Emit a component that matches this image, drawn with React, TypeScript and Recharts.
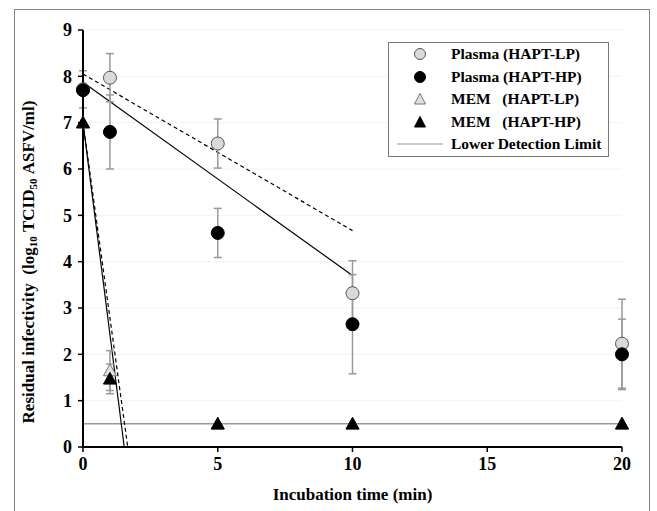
import React from "react";
import {
  ComposedChart,
  Scatter,
  ErrorBar,
  XAxis,
  YAxis,
  CartesianGrid,
  ReferenceLine,
} from "recharts";

// sampling times (min)
const times = [0, 1, 5, 10, 20];

// residual infectivity, log10 TCID50 ASFV/ml
const plasmaLP = [7.72, 7.97, 6.55, 3.32, 2.23];
const plasmaLPErr = [0.4, 0.52, 0.53, 0.7, 0.96];
const plasmaHP = [7.7, 6.8, 4.62, 2.65, 2.0];
const plasmaHPErr = [0.1, 0.8, 0.53, 1.07, 0.76];
const memLP = [7.0, 1.65, 0.5, 0.5, 0.5];
const memLPErr = [0, 0.43, 0, 0, 0];
const memHP = [7.0, 1.47, 0.5, 0.5, 0.5];
const memHPErr = [0, 0.32, 0, 0, 0];

// regression line end points [x, y]
const plasmaLPFit = [[0, 8.05], [10, 4.67]];
const plasmaHPFit = [[0, 7.87], [10, 3.7]];
const memLPFit = [[0, 7.0], [1.66, 0]];
const memHPFit = [[0, 7.0], [1.53, 0]];

const detectionLimit = 0.5;
const xTicks = [0, 5, 10, 15, 20];
const yTicks = [0, 1, 2, 3, 4, 5, 6, 7, 8, 9];

const legendItems = [
  { label: "Plasma (HAPT-LP)", shape: "circle", fill: "#d9d9d9", stroke: "#555" },
  { label: "Plasma (HAPT-HP)", shape: "circle", fill: "#000", stroke: "#000" },
  { label: "MEM   (HAPT-LP)", shape: "triangle", fill: "#e0e0e0", stroke: "#777" },
  { label: "MEM   (HAPT-HP)", shape: "triangle", fill: "#000", stroke: "#000" },
  { label: "Lower Detection Limit", shape: "line", fill: "none", stroke: "#999" },
];

const serif = "'Liberation Serif', 'Times New Roman', serif";
const tickStyle = { fill: "#000", fontSize: 18, fontWeight: "bold", fontFamily: serif };

const build = (ys: number[], errs: number[]) =>
  times.map((t, i) => ({ x: t, y: ys[i], err: errs[i] }));

const toSegment = (pts: number[][]) => pts.map(([x, y]) => ({ x, y }));

const circleShape = (fill: string, stroke: string) => (props: any) =>
  <circle cx={props.cx} cy={props.cy} r={6.5} fill={fill} stroke={stroke} strokeWidth={1} />;

const triangleShape = (fill: string, stroke: string) => (props: any) => {
  const { cx, cy } = props;
  const s = 6.5;
  return (
    <path
      d={`M${cx},${cy - s} L${cx + s},${cy + s * 0.8} L${cx - s},${cy + s * 0.8} Z`}
      fill={fill}
      stroke={stroke}
      strokeWidth={1}
    />
  );
};

const LegendBox: React.FC = () => (
  <div
    style={{
      position: "absolute",
      left: 388,
      top: 42,
      border: "1px solid #777",
      background: "#fff",
      width: 219,
      fontFamily: serif,
      fontWeight: "bold",
      fontSize: 15.5,
    }}
  >
    {legendItems.map((it) => (
      <div key={it.label} style={{ display: "flex", alignItems: "center", height: 22.5 }}>
        <svg width={62} height={16}>
          {it.shape === "circle" && <circle cx={31} cy={8} r={5.5} fill={it.fill} stroke={it.stroke} />}
          {it.shape === "triangle" && (
            <path d="M31,2.5 L36.5,13 L25.5,13 Z" fill={it.fill} stroke={it.stroke} />
          )}
          {it.shape === "line" && <line x1={8} x2={54} y1={8} y2={8} stroke={it.stroke} strokeWidth={1} />}
        </svg>
        <span style={{ whiteSpace: "pre", color: "#000" }}>{it.label}</span>
      </div>
    ))}
  </div>
);

const YLabel: React.FC<any> = () => (
  <text
    x={30}
    y={262}
    transform="rotate(-90, 30, 262)"
    textAnchor="middle"
    dominantBaseline="middle"
    fontFamily={serif}
    fontWeight="bold"
    fontSize={17}
    fill="#000"
  >
    <tspan>{"Residual infectivity\u00a0\u00a0(log"}</tspan>
    <tspan fontSize={11} dy={4}>10</tspan>
    <tspan dy={-4}>{"\u00a0TCID"}</tspan>
    <tspan fontSize={11} dy={4}>50</tspan>
    <tspan dy={-4}>{"\u00a0ASFV/ml)"}</tspan>
  </text>
);

export default function App() {
  return (
    <div
      style={{
        position: "absolute",
        left: 0,
        top: 0,
        width: 657,
        height: 511,
        overflow: "hidden",
        background: "#fff",
      }}
    >
      <div
        style={{
          position: "absolute",
          left: 14,
          top: 9,
          width: 636,
          height: 540,
          border: "1px solid #888",
          boxSizing: "border-box",
        }}
      />
      <ComposedChart
        width={657}
        height={511}
        margin={{ top: 30, right: 35, bottom: 34, left: 0 }}
        style={{ position: "absolute", left: 0, top: 0 }}
      >
        <CartesianGrid horizontal vertical={false} stroke="#f2f2f2" />
        <XAxis
          type="number"
          dataKey="x"
          domain={[0, 20]}
          ticks={xTicks}
          height={30}
          tickSize={5}
          tickMargin={5}
          axisLine={{ stroke: "#000", strokeWidth: 2 }}
          tickLine={{ stroke: "#000", strokeWidth: 1.5 }}
          tick={tickStyle}
          label={{
            value: "Incubation time (min)",
            position: "insideBottom",
            offset: -23,
            style: { fill: "#000", fontSize: 17, fontWeight: "bold", fontFamily: serif },
          }}
        />
        <YAxis
          type="number"
          dataKey="y"
          domain={[0, 9]}
          ticks={yTicks}
          width={83}
          tickSize={5}
          tickMargin={6}
          axisLine={{ stroke: "#000", strokeWidth: 2 }}
          tickLine={{ stroke: "#000", strokeWidth: 1.5 }}
          tick={tickStyle}
          label={<YLabel />}
        />
        <ReferenceLine y={detectionLimit} stroke="#999" strokeWidth={1.5} />
        <ReferenceLine segment={toSegment(plasmaLPFit)} stroke="#000" strokeWidth={1.2} strokeDasharray="4 3" />
        <ReferenceLine segment={toSegment(plasmaHPFit)} stroke="#000" strokeWidth={1.2} />
        <ReferenceLine segment={toSegment(memLPFit)} stroke="#000" strokeWidth={1.2} strokeDasharray="4 3" />
        <ReferenceLine segment={toSegment(memHPFit)} stroke="#000" strokeWidth={1.2} />
        <Scatter
          name="Plasma (HAPT-LP)"
          data={build(plasmaLP, plasmaLPErr)}
          dataKey="y"
          shape={circleShape("#d9d9d9", "#555")}
          isAnimationActive={false}
        >
          <ErrorBar dataKey="err" direction="y" width={4} stroke="#999" strokeWidth={1.5} />
        </Scatter>
        <Scatter
          name="Plasma (HAPT-HP)"
          data={build(plasmaHP, plasmaHPErr)}
          dataKey="y"
          shape={circleShape("#000", "#000")}
          isAnimationActive={false}
        >
          <ErrorBar dataKey="err" direction="y" width={4} stroke="#999" strokeWidth={1.5} />
        </Scatter>
        <Scatter
          name="MEM (HAPT-LP)"
          data={build(memLP, memLPErr)}
          dataKey="y"
          shape={triangleShape("#e0e0e0", "#777")}
          isAnimationActive={false}
        >
          <ErrorBar dataKey="err" direction="y" width={4} stroke="#999" strokeWidth={1.5} />
        </Scatter>
        <Scatter
          name="MEM (HAPT-HP)"
          data={build(memHP, memHPErr)}
          dataKey="y"
          shape={triangleShape("#000", "#000")}
          isAnimationActive={false}
        >
          <ErrorBar dataKey="err" direction="y" width={4} stroke="#999" strokeWidth={1.5} />
        </Scatter>
      </ComposedChart>
      <LegendBox />
    </div>
  );
}
